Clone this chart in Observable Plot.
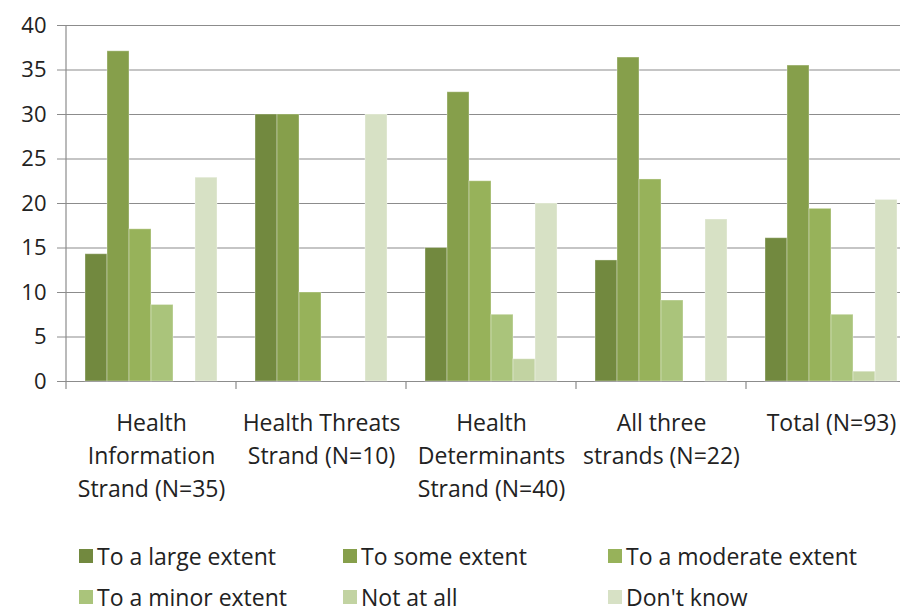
<!DOCTYPE html>
<html>
<head>
<meta charset="utf-8">
<script src="https://cdn.jsdelivr.net/npm/d3@7"></script>
<script src="https://cdn.jsdelivr.net/npm/@observablehq/plot@0.6"></script>
<style>
  html, body { margin: 0; padding: 0; background: #fff; overflow: hidden; }
  #wrap { position: relative; width: 900px; height: 615px; overflow: hidden; font-family: "Open Sans", sans-serif; color: #222; }
  #chart { position: absolute; left: 0; top: 0; width: 916px; }
  .lg { position: absolute; display: flex; align-items: center; white-space: nowrap; font-size: 23px; line-height: 30px; height: 30px; }
  .sw { width: 14px; height: 14px; margin-right: 4px; flex: none; }
</style>
</head>
<body>
<div id="wrap"><div id="chart"></div><div id="legend"></div></div>
<script>
// ---- data ----
const categories = [
  "Health\nInformation\nStrand (N=35)",
  "Health Threats\nStrand (N=10)",
  "Health\nDeterminants\nStrand (N=40)",
  "All three\nstrands (N=22)",
  "Total (N=93)"
];
const seriesNames = ["To a large extent", "To some extent", "To a moderate extent", "To a minor extent", "Not at all", "Don't know"];
const largeExtent    = [14.3, 30.0, 15.0, 13.6, 16.1];
const someExtent     = [37.1, 30.0, 32.5, 36.4, 35.5];
const moderateExtent = [17.1, 10.0, 22.5, 22.7, 19.4];
const minorExtent    = [8.6, 0, 7.5, 9.1, 7.5];
const notAtAll       = [0, 0, 2.5, 0, 1.1];
const dontKnow       = [22.9, 30.0, 20.0, 18.2, 20.4];
const seriesColors = ["#72893f", "#869f4b", "#97b25a", "#aac47b", "#c2d3a2", "#d7e1c5"];
const yTicks = [0, 5, 10, 15, 20, 25, 30, 35, 40];

const seriesValues = [largeExtent, someExtent, moderateExtent, minorExtent, notAtAll, dontKnow];
const rows = [];
categories.forEach((c, i) => seriesNames.forEach((s, j) => rows.push({category: c, series: s, value: seriesValues[j][i]})));

const gridColor = "#8c8c8c";

const chart = Plot.plot({
  width: 916,
  height: 520,
  marginTop: 25,
  marginBottom: 139,
  marginLeft: 66,
  marginRight: 0,
  style: {fontFamily: "'Open Sans', sans-serif", fontSize: "23px", color: "#222", background: "white", overflow: "visible", maxWidth: "none"},
  fx: {domain: categories, padding: 0, axis: null},
  x: {domain: seriesNames, paddingInner: 0, paddingOuter: 0.75, axis: null},
  y: {domain: [0, 40], axis: null},
  color: {domain: seriesNames, range: seriesColors},
  marks: [
    Plot.ruleY(yTicks, {stroke: gridColor, strokeWidth: 1.2}),
    Plot.barY(rows, {fx: "category", x: "series", y: "value", fill: "series", stroke: "#ffffff", strokeOpacity: 0.35, strokeWidth: 1}),
    Plot.axisY({ticks: yTicks, tickSize: 9, tickPadding: 11, stroke: gridColor, fill: "#222", fontSize: 22, label: null, tickFormat: d => String(d)}),
    Plot.text(categories, {fx: d => d, text: d => d, frameAnchor: "bottom", lineAnchor: "top", dy: 26, lineHeight: 1.43, fontSize: 23, fill: "#222"})
  ]
});
chart.style.maxWidth = "none";
document.getElementById("chart").appendChild(chart);

// axis line and category boundary ticks, positioned from Plot's own scales
const fx = chart.scale("fx");
const y = chart.scale("y");
const svg = d3.select(chart);
const y0 = y.apply(0), yTop = y.apply(40);
const g = svg.append("g").attr("stroke", gridColor).attr("stroke-width", 1.2);
g.append("line").attr("x1", fx.apply(categories[0])).attr("x2", fx.apply(categories[0])).attr("y1", yTop).attr("y2", y0 + 8);
categories.forEach(c => {
  const xb = fx.apply(c) + fx.bandwidth;
  g.append("line").attr("x1", xb).attr("x2", xb).attr("y1", y0).attr("y2", y0 + 8);
});

// legend
const legendPos = [
  {left: 79, top: 541}, {left: 343, top: 541}, {left: 608, top: 541},
  {left: 79, top: 582}, {left: 343, top: 582}, {left: 608, top: 582}
];
const legend = document.getElementById("legend");
seriesNames.forEach((s, i) => {
  const item = document.createElement("div");
  item.className = "lg";
  item.style.left = legendPos[i].left + "px";
  item.style.top = legendPos[i].top + "px";
  const sw = document.createElement("span");
  sw.className = "sw";
  sw.style.background = seriesColors[i];
  item.appendChild(sw);
  item.appendChild(document.createTextNode(s));
  legend.appendChild(item);
});
</script>
</body>
</html>
